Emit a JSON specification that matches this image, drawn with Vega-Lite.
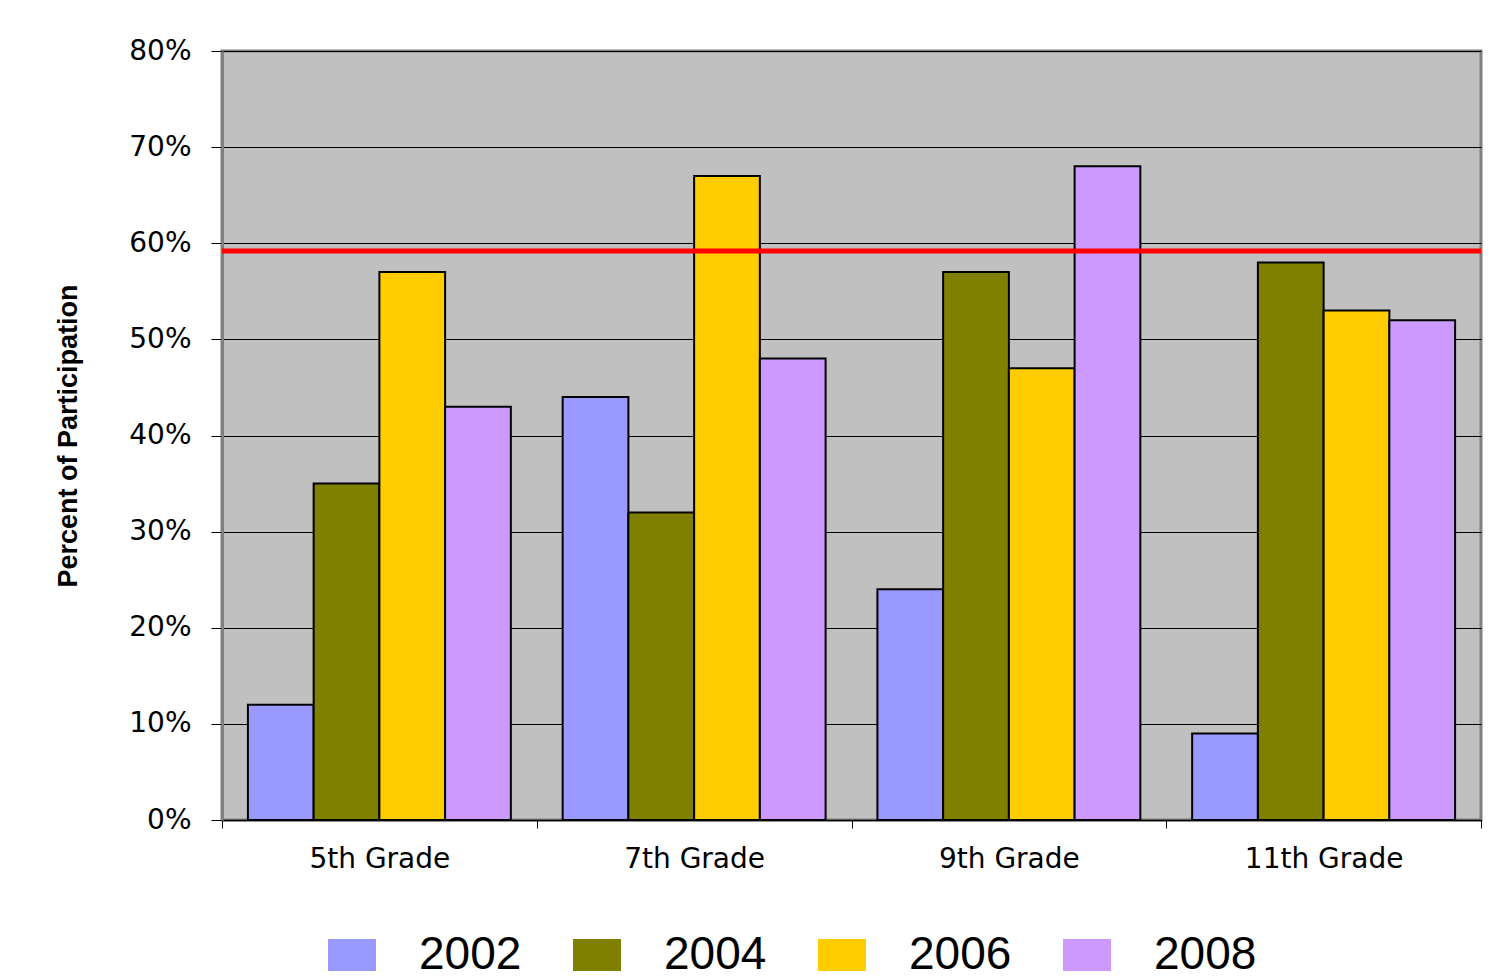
{
  "$schema": "https://vega.github.io/schema/vega-lite/v6.json",
  "autosize": {"type": "none"},
  "width": 1259,
  "height": 769,
  "padding": {"left": 222, "top": 51, "right": 20, "bottom": 158},
  "background": "white",
  "config": {
    "view": {"fill": "#C0C0C0", "stroke": "#808080", "strokeWidth": 3},
    "axis": {"labelFont": "DejaVu Sans", "labelColor": "black"}
  },
  "layer": [
    {
      "data": {
        "values": [
          {"grade": "5th Grade", "year": "2002", "pct": 0.12},
          {"grade": "5th Grade", "year": "2004", "pct": 0.35},
          {"grade": "5th Grade", "year": "2006", "pct": 0.57},
          {"grade": "5th Grade", "year": "2008", "pct": 0.43},
          {"grade": "7th Grade", "year": "2002", "pct": 0.44},
          {"grade": "7th Grade", "year": "2004", "pct": 0.32},
          {"grade": "7th Grade", "year": "2006", "pct": 0.67},
          {"grade": "7th Grade", "year": "2008", "pct": 0.48},
          {"grade": "9th Grade", "year": "2002", "pct": 0.24},
          {"grade": "9th Grade", "year": "2004", "pct": 0.57},
          {"grade": "9th Grade", "year": "2006", "pct": 0.47},
          {"grade": "9th Grade", "year": "2008", "pct": 0.68},
          {"grade": "11th Grade", "year": "2002", "pct": 0.09},
          {"grade": "11th Grade", "year": "2004", "pct": 0.58},
          {"grade": "11th Grade", "year": "2006", "pct": 0.53},
          {"grade": "11th Grade", "year": "2008", "pct": 0.52}
        ]
      },
      "mark": {"type": "bar", "stroke": "black", "strokeWidth": 2},
      "encoding": {
        "x": {
          "field": "grade",
          "type": "nominal",
          "sort": ["5th Grade", "7th Grade", "9th Grade", "11th Grade"],
          "scale": {"paddingInner": 0, "paddingOuter": 0},
          "axis": {
            "title": null,
            "labelAngle": 0,
            "labelFontSize": 28,
            "labelPadding": 17,
            "tickBand": "extent",
            "tickSize": 8,
            "tickColor": "black",
            "domainColor": "black",
            "domainWidth": 1.5,
            "grid": false
          }
        },
        "xOffset": {
          "field": "year",
          "type": "nominal",
          "scale": {"paddingOuter": 0.394, "paddingInner": 0}
        },
        "y": {
          "field": "pct",
          "type": "quantitative",
          "scale": {"domain": [0, 0.8], "nice": false},
          "axis": {
            "values": [0, 0.1, 0.2, 0.3, 0.4, 0.5, 0.6, 0.7, 0.8],
            "format": ".0%",
            "labelFontSize": 28,
            "labelPadding": 20,
            "tickSize": 11,
            "tickColor": "black",
            "domainColor": "#808080",
            "domainWidth": 3,
            "grid": true,
            "gridColor": "black",
            "gridWidth": 1,
            "title": "Percent of Participation",
            "titleFont": "Liberation Sans",
            "titleFontSize": 27,
            "titleFontWeight": "bold",
            "titleColor": "black",
            "titlePadding": 46
          }
        },
        "color": {
          "field": "year",
          "type": "nominal",
          "scale": {
            "domain": ["2002", "2004", "2006", "2008"],
            "range": ["#9999FF", "#808000", "#FFCC00", "#CC99FF"]
          },
          "legend": {
            "title": null,
            "orient": "none",
            "legendX": 107,
            "legendY": 881,
            "direction": "horizontal",
            "columns": 4,
            "symbolType": "M-1.5,-1H1.5V1H-1.5Z",
            "symbolSize": 1024,
            "symbolStrokeWidth": 0,
            "labelFont": "Liberation Sans",
            "labelFontSize": 46,
            "labelColor": "black",
            "labelOffset": 44,
            "columnPadding": 51,
            "padding": 0
          }
        }
      }
    },
    {
      "data": {"values": [{"target": 0.592}]},
      "mark": {"type": "rule", "color": "#FF0000", "strokeWidth": 5},
      "encoding": {
        "y": {"field": "target", "type": "quantitative"}
      }
    }
  ]
}
